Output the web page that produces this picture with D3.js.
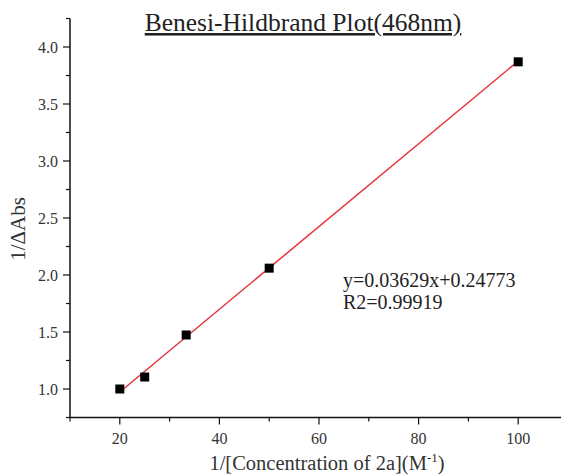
<!DOCTYPE html>
<html>
<head>
<meta charset="utf-8">
<script src="https://cdn.jsdelivr.net/npm/d3@7"></script>
<style>
  html, body { margin: 0; padding: 0; background: #fff; }
  svg { display: block; font-family: "Liberation Serif", "Times New Roman", serif; }
</style>
</head>
<body>
<svg id="chart" width="561" height="475"></svg>
<script>
// Measured points: reciprocal concentration vs reciprocal absorbance change
const invConc = [20, 25, 33.33, 50, 100];
const invAbs = [1.00, 1.105, 1.474, 2.06, 3.87];

// Linear fit reported on the plot
const slope = 0.03629;
const intercept = 0.24773;
const r2Text = "0.99919";

const xTicks = [20, 40, 60, 80, 100];
const yTicks = [1.0, 1.5, 2.0, 2.5, 3.0, 3.5, 4.0];

const svg = d3.select("#chart");

const x = d3.scaleLinear().domain([10, 110]).range([70, 568]);
const y = d3.scaleLinear().domain([0.75, 4.25]).range([417.5, 18.5]);

const axisColor = "#111";
const labelColor = "#333";

// Y axis with major and minor ticks
const yAxis = svg.append("g").attr("transform", `translate(${x.range()[0]},0)`);
yAxis.append("line")
  .attr("x1", 0).attr("x2", 0)
  .attr("y1", y.range()[1]).attr("y2", y.range()[0])
  .attr("stroke", axisColor).attr("stroke-width", 1.5);
const yMinor = d3.range(0.75, 4.26, 0.25).filter(v => !yTicks.some(t => Math.abs(t - v) < 1e-6));
yAxis.selectAll(".ymin").data(yMinor).join("line")
  .attr("x1", -4).attr("x2", 0)
  .attr("y1", d => y(d)).attr("y2", d => y(d))
  .attr("stroke", axisColor).attr("stroke-width", 1.2);
yAxis.selectAll(".ymaj").data(yTicks).join("line")
  .attr("x1", -7).attr("x2", 0)
  .attr("y1", d => y(d)).attr("y2", d => y(d))
  .attr("stroke", axisColor).attr("stroke-width", 1.2);
yAxis.selectAll("text").data(yTicks).join("text")
  .attr("x", -12).attr("y", d => y(d)).attr("dy", "0.35em")
  .attr("text-anchor", "end")
  .attr("font-size", 16).attr("fill", labelColor)
  .text(d => d3.format(".1f")(d));

// X axis with major and minor ticks
const xAxis = svg.append("g").attr("transform", `translate(0,${y.range()[0]})`);
xAxis.append("line")
  .attr("x1", x.range()[0]).attr("x2", x.range()[1])
  .attr("y1", 0).attr("y2", 0)
  .attr("stroke", axisColor).attr("stroke-width", 1.5);
const xMinor = [10, 30, 50, 70, 90, 110];
xAxis.selectAll(".xmin").data(xMinor).join("line")
  .attr("x1", d => x(d)).attr("x2", d => x(d))
  .attr("y1", 0).attr("y2", 4)
  .attr("stroke", axisColor).attr("stroke-width", 1.2);
xAxis.selectAll(".xmaj").data(xTicks).join("line")
  .attr("x1", d => x(d)).attr("x2", d => x(d))
  .attr("y1", 0).attr("y2", 7)
  .attr("stroke", axisColor).attr("stroke-width", 1.2);
xAxis.selectAll("text").data(xTicks).join("text")
  .attr("x", d => x(d)).attr("y", 26)
  .attr("text-anchor", "middle")
  .attr("font-size", 16).attr("fill", labelColor)
  .text(d => d);

// Fitted line across the data range
const xMin = d3.min(invConc), xMax = d3.max(invConc);
svg.append("line")
  .attr("x1", x(xMin)).attr("y1", y(slope * xMin + intercept))
  .attr("x2", x(xMax)).attr("y2", y(slope * xMax + intercept))
  .attr("stroke", "#e8323a").attr("stroke-width", 1.5);

// Data markers
const s = 9;
svg.selectAll(".pt").data(invConc.map((v, i) => [v, invAbs[i]])).join("rect")
  .attr("x", d => x(d[0]) - s / 2).attr("y", d => y(d[1]) - s / 2)
  .attr("width", s).attr("height", s)
  .attr("fill", "#000");

// Title, underlined
svg.append("text")
  .attr("x", 303).attr("y", 31)
  .attr("text-anchor", "middle")
  .attr("font-size", 25.5).attr("fill", "#222")
  .attr("text-decoration", "underline")
  .text("Benesi-Hildbrand Plot(468nm)");

// Axis titles
svg.append("text")
  .attr("transform", "translate(25,229) rotate(-90)")
  .attr("text-anchor", "middle")
  .attr("font-size", 21).attr("fill", labelColor)
  .text("1/ΔAbs");

const xl = svg.append("text")
  .attr("x", 327).attr("y", 470)
  .attr("text-anchor", "middle")
  .attr("font-size", 20.5).attr("fill", labelColor);
xl.append("tspan").text("1/[Concentration of 2a](M");
xl.append("tspan").attr("font-size", 13).attr("dy", -8).text("-1");
xl.append("tspan").attr("dy", 8).text(")");

// Fit annotation
svg.append("text")
  .attr("x", 343).attr("y", 287)
  .attr("font-size", 20).attr("fill", "#222")
  .text(`y=${slope}x+${intercept}`);
svg.append("text")
  .attr("x", 343).attr("y", 309)
  .attr("font-size", 20).attr("fill", "#222")
  .text(`R2=${r2Text}`);
</script>
</body>
</html>
